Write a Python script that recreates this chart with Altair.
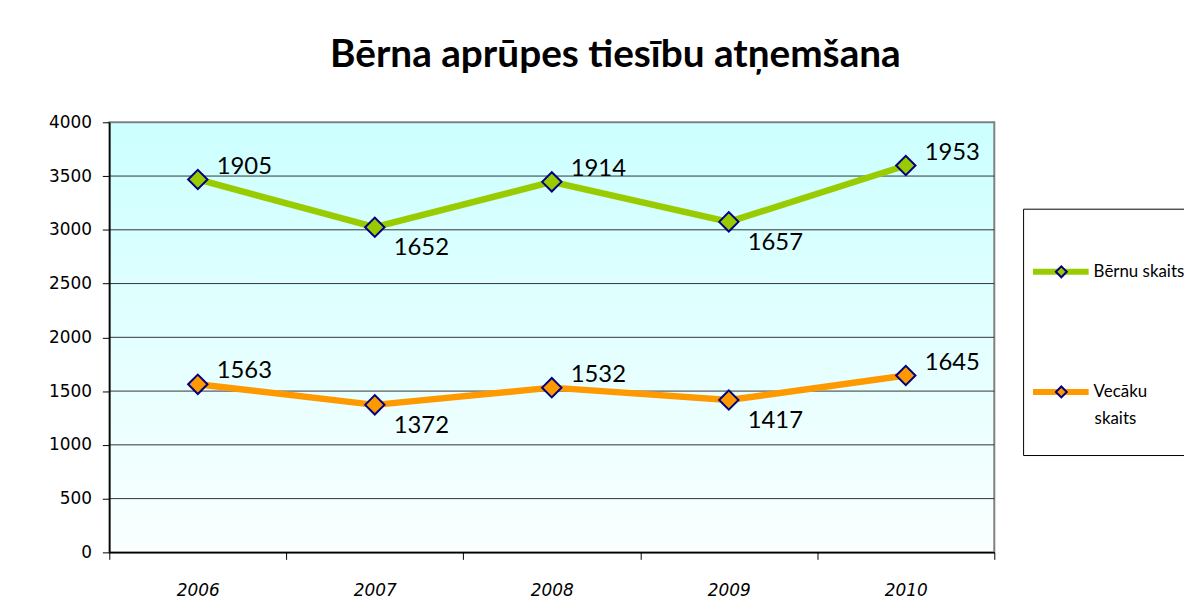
import altair as alt
import pandas as pd

years = ["2006", "2007", "2008", "2009", "2010"]
bernu_skaits = [1905, 1652, 1914, 1657, 1953]
vecaku_skaits = [1563, 1372, 1532, 1417, 1645]
series_names = ["Bērnu skaits", "Vecāku skaits"]
series_colors = ["#99CC00", "#FF9900"]
y_ticks = [0, 500, 1000, 1500, 2000, 2500, 3000, 3500, 4000]
grid_values = [500, 1000, 1500, 2000, 2500, 3000, 3500]
labels_above = ["2006", "2008", "2010"]
labels_below = ["2007", "2009"]
title_text = "Bērna aprūpes tiesību atņemšana"

rows = []
for i, yr in enumerate(years):
    rows.append({"year": yr, "series": series_names[1], "value": vecaku_skaits[i], "ord": 0})
    rows.append({"year": yr, "series": series_names[0], "value": bernu_skaits[i], "ord": 1})
df = pd.DataFrame(rows)

W, H = 891, 433

x_enc = alt.X(
    "year:O",
    sort=years,
    scale=alt.Scale(type="band", paddingInner=0, paddingOuter=0),
    axis=alt.Axis(
        title=None, tickBand="extent", labelFont="DejaVu Sans", labelFontSize=17,
        labelFontStyle="italic", labelColor="black", labelPadding=23, labelAngle=0,
        tickSize=7, tickColor="black", domainColor="black", domainWidth=1.5, zindex=1,
        grid=False,
    ),
)
y_scale = alt.Scale(domain=[0, 4000], nice=False)
y_enc = alt.Y(
    "y1:Q",
    scale=y_scale,
    axis=alt.Axis(
        title=None, values=y_ticks, format="d", labelFont="DejaVu Sans", labelFontSize=17,
        labelColor="black", labelPadding=11, tickSize=7, tickColor="black",
        domainColor="black", domainWidth=1.5, grid=False, zindex=1,
    ),
)

base = alt.Chart(df).transform_stack(
    stack="value", groupby=["year"], as_=["y0", "y1"], sort=[alt.SortField("ord", order="ascending")]
)

bg = alt.Chart(alt.Data(values=[{}])).mark_rect(
    color=alt.Gradient(
        gradient="linear",
        stops=[alt.GradientStop(color="#CCFFFF", offset=0), alt.GradientStop(color="#FAFFFF", offset=1)],
        x1=0, x2=0, y1=0, y2=1,
    ),
    stroke="#808080", strokeWidth=2,
).encode(x=alt.value(0), x2=alt.value("width"), y=alt.value(0), y2=alt.value("height"))

grid = alt.Chart(pd.DataFrame({"g": grid_values})).mark_rule(color="#333333", strokeWidth=1).encode(
    y=alt.Y("g:Q", scale=y_scale)
)

lines = base.mark_line(strokeWidth=6.5).encode(
    x=x_enc,
    y=y_enc,
    stroke=alt.Stroke(
        "series:N",
        scale=alt.Scale(domain=series_names, range=series_colors),
        legend=alt.Legend(
            title=None, orient="none", legendX=920, legendY=87, strokeColor="black",
            padding=7, symbolType="stroke", symbolSize=3136, symbolStrokeWidth=6,
            labelFont="Lato", labelFontSize=17, labelColor="black", labelOffset=2,
            labelBaseline="middle", clipHeight=113, rowPadding=8, zindex=1,
            labelExpr="datum.label == 'Vecāku skaits' ? 'Vecāku' : datum.label",
        ),
    ),
)

points = base.mark_point(shape="diamond", filled=True, size=380, stroke="#000080",
                         strokeWidth=2, opacity=1).encode(
    x=x_enc,
    y=y_enc,
    fill=alt.Fill(
        "series:N",
        scale=alt.Scale(domain=series_names + [" "], range=series_colors + ["#FFFFFF"]),
        legend=alt.Legend(
            title=None, orient="none", legendX=943, legendY=87, values=series_names,
            padding=7, symbolType="diamond", symbolSize=121, symbolStrokeWidth=2,
            symbolStrokeColor="#000080", symbolOpacity=1,
            labelFont="Lato", labelFontSize=17, labelColor="black", labelOffset=25,
            labelBaseline="top", clipHeight=113, rowPadding=8, zindex=2,
            labelExpr="datum.label == 'Vecāku skaits' ? ['', 'skaits'] : ''",
        ),
    ),
)

text_above = base.mark_text(font="Lato", fontSize=24, align="left", baseline="middle",
                            dx=19, dy=-13, color="black").encode(
    x=x_enc, y=y_enc, text=alt.Text("value:Q")
).transform_filter(alt.FieldOneOfPredicate(field="year", oneOf=labels_above))

text_below = base.mark_text(font="Lato", fontSize=24, align="left", baseline="middle",
                            dx=19, dy=21, color="black").encode(
    x=x_enc, y=y_enc, text=alt.Text("value:Q")
).transform_filter(alt.FieldOneOfPredicate(field="year", oneOf=labels_below))

chart = alt.layer(bg, grid, lines, points, text_above, text_below).properties(
    width=W, height=H,
    title=alt.TitleParams(title_text, font="Lato", fontSize=39, fontWeight="bold",
                          anchor="middle", frame="group", dx=64, offset=39, color="black"),
    autosize=alt.AutoSizeParams(type="none"),
    padding={"left": 102, "top": 113, "right": 191, "bottom": 62},
    background="white",
).configure_view(stroke=None)

chart.save("out.html", embed_options={"renderer": "svg", "actions": False})
